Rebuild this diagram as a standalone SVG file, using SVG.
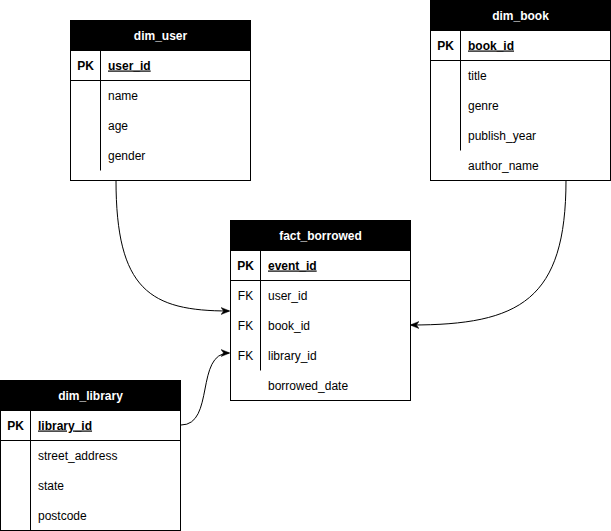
<svg xmlns="http://www.w3.org/2000/svg" width="611" height="531" viewBox="0 0 611 531">
<style>
.box{fill:#fff;stroke:#000;stroke-width:1}
.hdr{fill:#000;stroke:#000;stroke-width:1}
.ln{stroke:#000;stroke-width:1;fill:none}
text{font-family:"Liberation Sans",Arial,sans-serif;font-size:12px;fill:#000}
.ht{fill:#fff;font-weight:bold;text-anchor:middle}
.key{font-weight:bold;text-anchor:middle}
.fk{text-anchor:middle}
.pk{font-weight:bold;text-decoration:underline}
.edge{stroke:#000;stroke-width:1;fill:none;marker-end:url(#arr)}
</style>
<defs>
<marker id="arr" viewBox="0 0 10 10" refX="9" refY="5" markerWidth="9" markerHeight="9" markerUnits="userSpaceOnUse" orient="auto">
<path d="M0,1 L10,5 L0,9 L3,5 z" fill="#000" stroke="#000" stroke-width="0.5"/>
</marker>
</defs>
<g id="connectors">
<path class="edge" d="M116,180 C116,290 150,311 229,311"/>
<path class="edge" d="M566,180 C566,300 520,325 411,325"/>
<path class="edge" d="M181,425 C215,425 195,353 229,353"/>
</g>
<g id="dim_user">
<rect class="box" x="70.5" y="20.5" width="180" height="160"/>
<rect class="hdr" x="70.5" y="20.5" width="180" height="30"/>
<text class="ht" x="160.5" y="39.5">dim_user</text>
<line class="ln" x1="70.5" y1="80.5" x2="250.5" y2="80.5"/>
<line class="ln" x1="100.5" y1="50.5" x2="100.5" y2="170.5"/>
<text class="key" x="85.5" y="69.5">PK</text>
<text class="pk" x="108" y="69.5">user_id</text>
<text x="108" y="99.5">name</text>
<text x="108" y="129.5">age</text>
<text x="108" y="159.5">gender</text>
</g>
<g id="dim_book">
<rect class="box" x="430.5" y="0.5" width="180" height="180"/>
<rect class="hdr" x="430.5" y="0.5" width="180" height="30"/>
<text class="ht" x="520.5" y="19.5">dim_book</text>
<line class="ln" x1="430.5" y1="60.5" x2="610.5" y2="60.5"/>
<line class="ln" x1="460.5" y1="30.5" x2="460.5" y2="150.5"/>
<text class="key" x="445.5" y="49.5">PK</text>
<text class="pk" x="468" y="49.5">book_id</text>
<text x="468" y="79.5">title</text>
<text x="468" y="109.5">genre</text>
<text x="468" y="139.5">publish_year</text>
<text x="468" y="169.5">author_name</text>
</g>
<g id="fact_borrowed">
<rect class="box" x="230.5" y="220.5" width="180" height="180"/>
<rect class="hdr" x="230.5" y="220.5" width="180" height="30"/>
<text class="ht" x="320.5" y="239.5">fact_borrowed</text>
<line class="ln" x1="230.5" y1="280.5" x2="410.5" y2="280.5"/>
<line class="ln" x1="260.5" y1="250.5" x2="260.5" y2="370.5"/>
<text class="key" x="245.5" y="269.5">PK</text>
<text class="pk" x="268" y="269.5">event_id</text>
<text class="fk" x="245.5" y="299.5">FK</text>
<text x="268" y="299.5">user_id</text>
<text class="fk" x="245.5" y="329.5">FK</text>
<text x="268" y="329.5">book_id</text>
<text class="fk" x="245.5" y="359.5">FK</text>
<text x="268" y="359.5">library_id</text>
<text x="268" y="389.5">borrowed_date</text>
</g>
<g id="dim_library">
<rect class="box" x="0.5" y="380.5" width="180" height="150"/>
<rect class="hdr" x="0.5" y="380.5" width="180" height="30"/>
<text class="ht" x="90.5" y="399.5">dim_library</text>
<line class="ln" x1="0.5" y1="440.5" x2="180.5" y2="440.5"/>
<line class="ln" x1="30.5" y1="410.5" x2="30.5" y2="530.5"/>
<text class="key" x="15.5" y="429.5">PK</text>
<text class="pk" x="38" y="429.5">library_id</text>
<text x="38" y="459.5">street_address</text>
<text x="38" y="489.5">state</text>
<text x="38" y="519.5">postcode</text>
</g>
</svg>
